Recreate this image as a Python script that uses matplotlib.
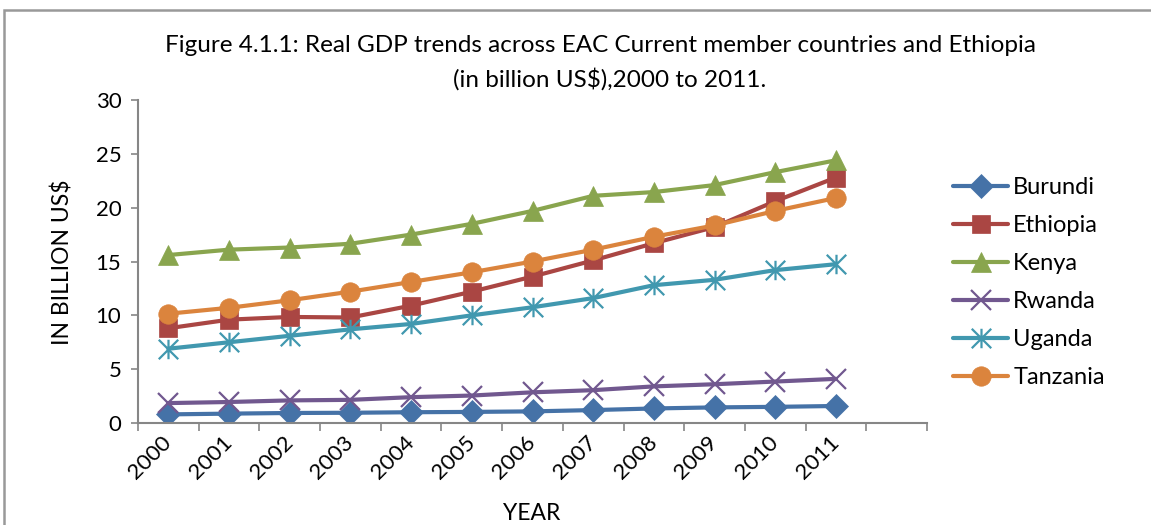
import matplotlib
matplotlib.use('Agg')
import numpy as np
import matplotlib.pyplot as plt
from matplotlib.path import Path
from matplotlib.patches import Rectangle

plt.rcParams['font.family'] = ['Lato', 'DejaVu Sans']

years = ['2000', '2001', '2002', '2003', '2004', '2005',
         '2006', '2007', '2008', '2009', '2010', '2011']
burundi = [0.8, 0.87, 0.93, 0.95, 1.0, 1.03, 1.08, 1.2, 1.35, 1.45, 1.5, 1.58]
ethiopia = [8.8, 9.6, 9.85, 9.8, 10.9, 12.2, 13.6, 15.1, 16.7, 18.2, 20.6, 22.8]
kenya = [15.6, 16.1, 16.3, 16.65, 17.5, 18.5, 19.7, 21.1, 21.45, 22.1, 23.3, 24.4]
rwanda = [1.85, 1.95, 2.1, 2.15, 2.4, 2.55, 2.85, 3.05, 3.4, 3.6, 3.85, 4.1]
uganda = [6.9, 7.5, 8.1, 8.7, 9.2, 10.0, 10.75, 11.6, 12.8, 13.3, 14.2, 14.75]
tanzania = [10.15, 10.7, 11.4, 12.2, 13.1, 14.0, 15.0, 16.1, 17.3, 18.35, 19.7, 20.9]

# Excel-style "star" marker: x plus a vertical bar
star = Path([(0, -1), (0, 1), (-1, -1), (1, 1), (-1, 1), (1, -1)],
            [Path.MOVETO, Path.LINETO, Path.MOVETO, Path.LINETO,
             Path.MOVETO, Path.LINETO])

series = [
    ('Burundi', burundi, '#4572A7', 'D', 12),
    ('Ethiopia', ethiopia, '#AA4643', 's', 13),
    ('Kenya', kenya, '#89A54E', '^', 14),
    ('Rwanda', rwanda, '#71588F', 'x', 14),
    ('Uganda', uganda, '#4198AF', star, 14),
    ('Tanzania', tanzania, '#DB843D', 'o', 14),
]

fig = plt.figure(figsize=(11.51, 5.25), dpi=100)
ax = fig.add_axes([138/1151, 1 - 423/525, (927 - 138)/1151, (423 - 100)/525])

x = np.arange(len(years))
for name, vals, col, mk, ms in series:
    thin = mk == 'x' or mk is star
    ax.plot(x, vals, color=col, lw=3, marker=mk, markersize=ms,
            markeredgewidth=1.6 if thin else 0.5, markeredgecolor=col,
            markerfacecolor=col, label=name, solid_capstyle='round')

ax.set_xlim(-0.5, 12.5)
ax.set_ylim(0, 30)
ax.set_yticks(np.arange(0, 31, 5))
ax.tick_params(axis='y', labelsize=16, length=5, width=1.2, color='#868686', pad=7)

ax.set_xticks(x)
ax.set_xticklabels(years, rotation=45, ha='right', va='center',
                   rotation_mode='anchor', fontsize=16)
ax.tick_params(axis='x', which='major', length=0, pad=12)
ax.set_xticks(np.arange(-0.5, 13, 1), minor=True)
ax.tick_params(axis='x', which='minor', length=6, width=1.2, color='#868686')

for s in ('top', 'right'):
    ax.spines[s].set_visible(False)
for s in ('left', 'bottom'):
    ax.spines[s].set_color('#868686')
    ax.spines[s].set_linewidth(1.5)

fig.text(62/1151, 1 - 262/525, 'IN BILLION US$', fontsize=16.5, rotation=90,
         ha='center', va='center')
fig.text(532/1151, 1 - 513/525, 'YEAR', fontsize=16.5, ha='center', va='center')

fig.text(601/1151, 1 - 46/525,
         'Figure 4.1.1: Real GDP trends across EAC Current member countries and Ethiopia',
         fontsize=17.5, ha='center', va='center')
fig.text(610/1151, 1 - 79/525, '(in billion US$),2000 to 2011.',
         fontsize=17.5, ha='center', va='center')

leg = ax.legend(loc='upper left', bbox_to_anchor=(953/1151, 1 - 177/525),
                bbox_transform=fig.transFigure, frameon=False, fontsize=17,
                handlelength=2.35, handletextpad=0.2, labelspacing=0.72,
                borderaxespad=0, borderpad=0)

# chart area border
fig.patches.append(Rectangle((4/1151, -0.2), 1.2, 1.2 - 10/525, fill=False,
                             edgecolor='#999999', lw=1.8,
                             transform=fig.transFigure, figure=fig))

fig.savefig('out.png', dpi=100)
